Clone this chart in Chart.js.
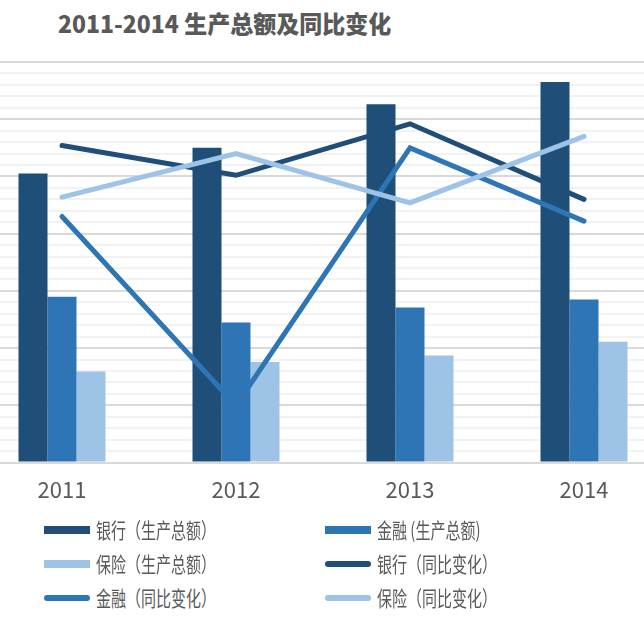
<!DOCTYPE html>
<html>
<head>
<meta charset="utf-8">
<script src="https://cdn.jsdelivr.net/npm/chart.js@4/dist/chart.umd.min.js"></script>
<style>
  body { margin: 0; background: #fff; }
  #wrap { position: relative; width: 644px; height: 644px; overflow: hidden; }
  #title {
    position: absolute; left: 58px; top: 5px; line-height: 30px;
    font: 900 23px "Noto Sans CJK SC", sans-serif; color: #595959; white-space: nowrap;
    transform: scaleY(1.05); transform-origin: 0 50%;
  }
  #chart { position: absolute; left: -25px; top: 0; }
  .lg-item { position: absolute; height: 20px; }
  .lg-sym { position: absolute; top: 6px; width: 46px; height: 8px; }
  .lg-sym.line { top: 7px; height: 6px; border-radius: 3px; }
  .lg-text {
    position: absolute; left: 52px; top: -2px; line-height: 24px;
    font: 15px "Noto Sans CJK SC", sans-serif; color: #595959; white-space: nowrap;
    transform: scaleY(1.4); transform-origin: 0 50%;
  }
</style>
</head>
<body>
<div id="wrap">
  <div id="title">2011-2014 生产总额及同比变化</div>
  <canvas id="chart" width="696" height="525"></canvas>
  <div id="legend"></div>
</div>
<script>
const years = ['2011', '2012', '2013', '2014'];

// 生产总额
const bankTotal = [5050, 5500, 6260, 6650];
const financeTotal = [2900, 2450, 2710, 2850];
const insuranceTotal = [1590, 1760, 1870, 2110];

// 同比变化 (%)
const bankYoY = [27.7, 25.1, 29.6, 23.0];
const financeYoY = [21.5, 5.0, 27.5, 21.1];
const insuranceYoY = [23.2, 27.0, 22.7, 28.5];

const DARK = '#1f4e79';
const MID = '#2e75b6';
const LIGHT = '#9dc3e6';

const lineStyle = (color) => ({
    type: 'line',
    yAxisID: 'y1',
    borderColor: color,
    backgroundColor: color,
    borderWidth: 5,
    borderCapStyle: 'round',
    pointRadius: 0,
    tension: 0,
    fill: false,
});

const datasets = [
    { label: '银行（生产总额）', data: bankTotal, backgroundColor: DARK, order: 10 },
    { label: '金融 (生产总额)', data: financeTotal, backgroundColor: MID, order: 10 },
    { label: '保险（生产总额）', data: insuranceTotal, backgroundColor: LIGHT, order: 10 },
    { label: '银行（同比变化）', data: bankYoY, ...lineStyle(DARK), order: 3 },
    { label: '金融（同比变化）', data: financeYoY, ...lineStyle(MID), order: 2 },
    { label: '保险（同比变化）', data: insuranceYoY, ...lineStyle(LIGHT), order: 1 },
];

const chart = new Chart(document.getElementById('chart'), {
    type: 'bar',
    data: { labels: years, datasets: datasets },
    options: {
        responsive: false,
        animation: false,
        layout: { padding: { top: 62, bottom: 8, left: 0, right: 0 } },
        datasets: { bar: { barPercentage: 1, categoryPercentage: 0.5 } },
        scales: {
            x: {
                grid: { display: false, drawTicks: false },
                border: { color: '#d9d9d9', width: 2 },
                ticks: {
                    color: '#595959',
                    padding: 14,
                    font: { family: 'Noto Sans CJK SC', size: 22 },
                },
            },
            y: {
                min: 0,
                max: 7000,
                border: { display: false },
                ticks: { display: false, stepSize: 200 },
                grid: {
                    drawTicks: false,
                    lineWidth: 2,
                    color: (ctx) => Math.round(ctx.tick.value) % 1000 === 0 ? '#d9d9d9' : '#f2f2f2',
                },
            },
            y1: { display: false, min: 0, max: 35 },
        },
        plugins: {
            legend: { display: false },
            tooltip: { enabled: false },
        },
    },
});

// legend, 2 columns, built from the datasets
const legendEl = document.getElementById('legend');
const colX = [44, 325];
const rowY = [520, 554, 588];
chart.data.datasets.forEach((ds, i) => {
    const item = document.createElement('div');
    item.className = 'lg-item';
    item.style.left = colX[i % 2] + 'px';
    item.style.top = rowY[Math.floor(i / 2)] + 'px';
    const sym = document.createElement('div');
    sym.className = 'lg-sym' + (ds.type === 'line' ? ' line' : '');
    sym.style.background = ds.type === 'line' ? ds.borderColor : ds.backgroundColor;
    const txt = document.createElement('span');
    txt.className = 'lg-text';
    txt.textContent = ds.label;
    item.appendChild(sym);
    item.appendChild(txt);
    legendEl.appendChild(item);
});
</script>
</body>
</html>
